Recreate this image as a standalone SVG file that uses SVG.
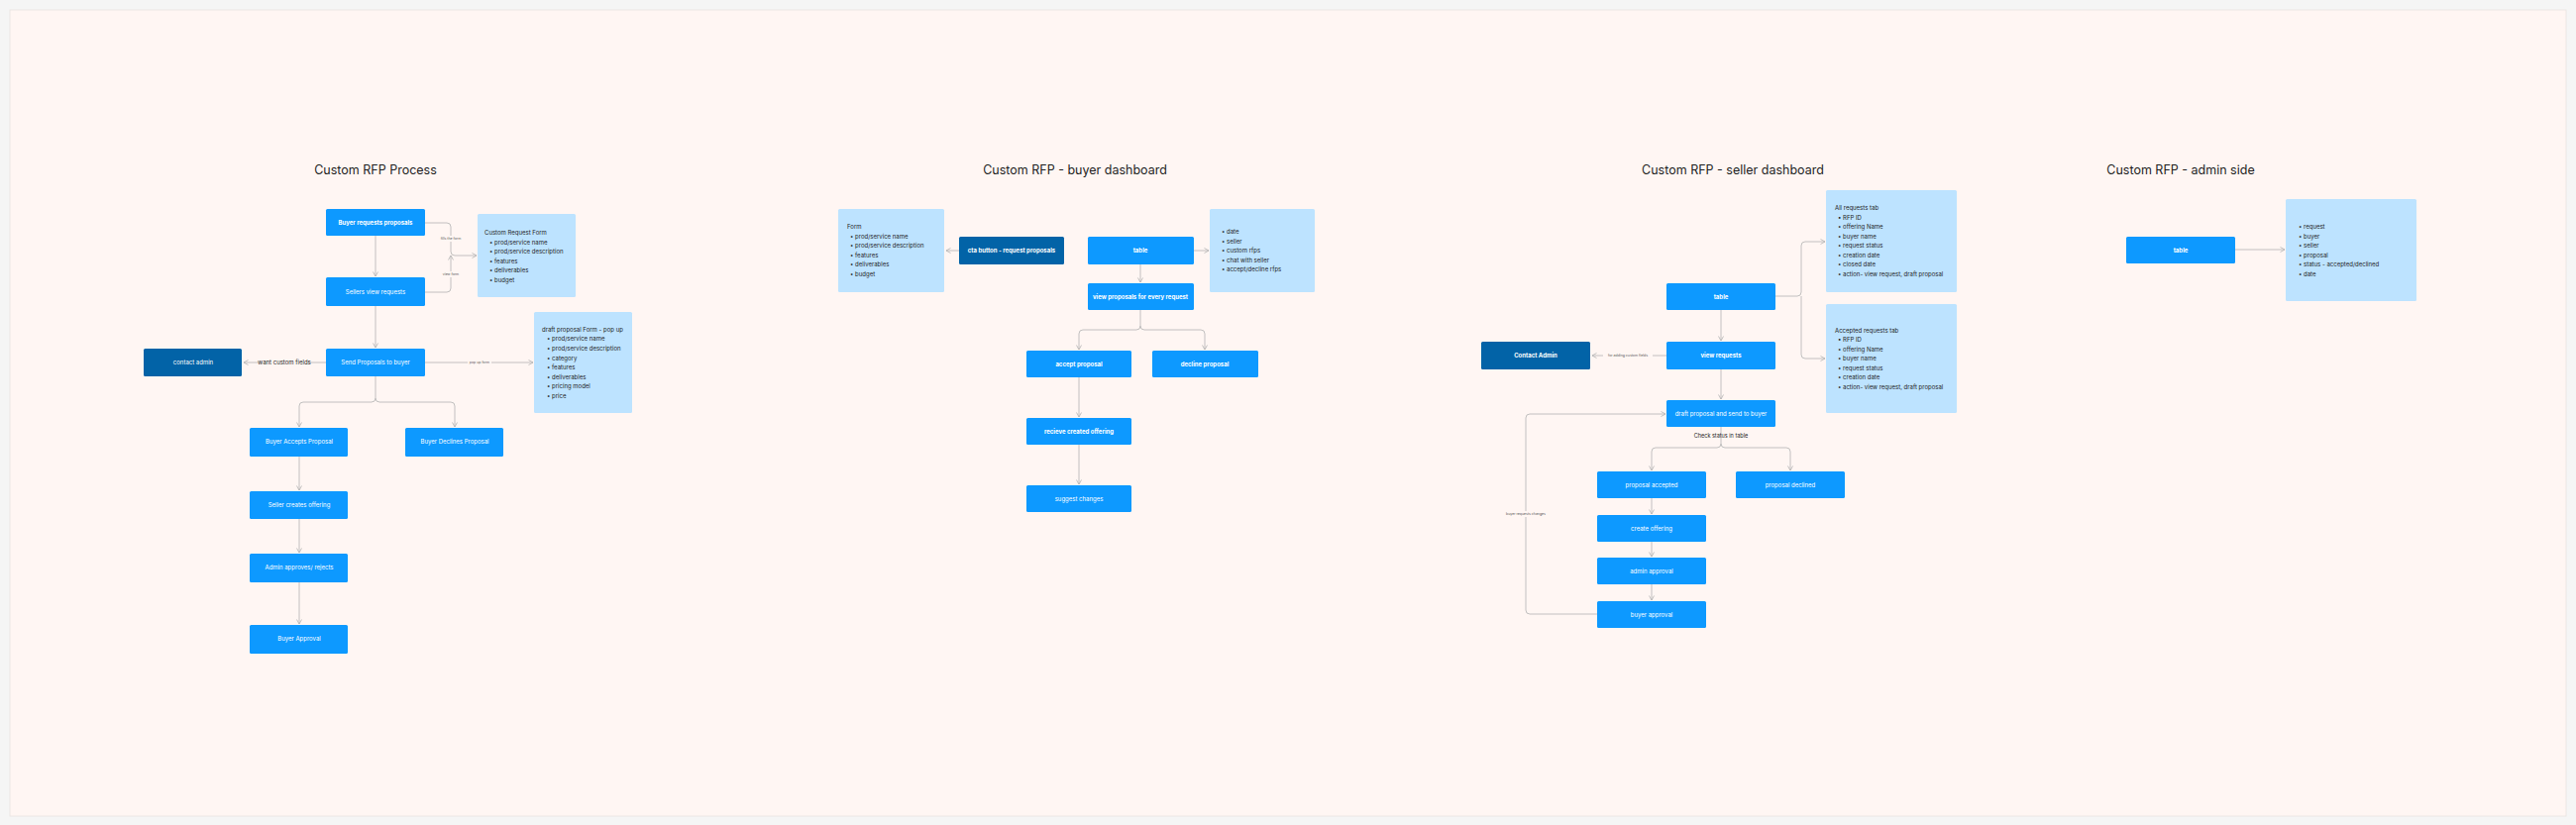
<svg xmlns="http://www.w3.org/2000/svg" width="2600" height="833" viewBox="0 0 2600 833">
<style>
text{font-family:Inter,"Liberation Sans",sans-serif}
.title{font-size:12.5px;fill:#1e1e1e;text-anchor:middle}
.n rect{fill:#0d99ff;rx:1.5}
.d rect{fill:#0263a7;rx:1.5}
.n text,.d text{font-size:6px;fill:#fff;text-anchor:middle;dominant-baseline:middle}
.b text{font-weight:bold}
.note rect{fill:#bde3ff;rx:1.5}
.note text{font-size:6px;fill:#1e1e1e}
.c path{fill:none;stroke:#b3b3b3;stroke-width:0.8;marker-end:url(#a)}
.lbl{font-size:3.5px;fill:#555;text-anchor:middle;dominant-baseline:middle}
.lbg{fill:#fff6f3}
</style>
<defs>
<marker id="a" viewBox="0 0 6 6" refX="5.5" refY="3" markerWidth="6" markerHeight="6" markerUnits="userSpaceOnUse" orient="auto"><path d="M1,0.5 L5.5,3 L1,5.5" fill="none" stroke="#b3b3b3" stroke-width="0.8"/></marker>
</defs>
<rect width="2600" height="833" fill="#f5f5f5"/>
<rect x="10" y="10" width="2580" height="814" fill="#fff6f3" stroke="#ece6e4" stroke-width="1"/>

<text class="title" x="379" y="176">Custom RFP Process</text>
<text class="title" x="1085" y="176">Custom RFP - buyer dashboard</text>
<text class="title" x="1749" y="176">Custom RFP - seller dashboard</text>
<text class="title" x="2201" y="176">Custom RFP - admin side</text>

<g class="c" id="connectors">
<!-- section 1 -->
<path d="M379,238 V279"/>
<path d="M379,309 V351"/>
<path d="M429,225 H451 Q455,225 455,229 V254 Q455,258 459,258 H481"/>
<path d="M429,295 H451 Q455,295 455,291 V258"/>
<path d="M329,366 H246"/>
<path d="M429,366 H538"/>
<path d="M379,380 V402 Q379,406 375,406 H306 Q302,406 302,410 V431"/>
<path d="M379,402 Q379,406 383,406 H455 Q459,406 459,410 V431"/>
<path d="M302,461 V495"/>
<path d="M302,524 V558"/>
<path d="M302,588 V630"/>
<!-- section 2 -->
<path d="M968,253 H955"/>
<path d="M1205,253 H1220"/>
<path d="M1151,267 V285"/>
<path d="M1151,313 V329 Q1151,333 1147,333 H1093 Q1089,333 1089,337 V353"/>
<path d="M1151,329 Q1151,333 1155,333 H1212 Q1216,333 1216,337 V353"/>
<path d="M1089,381 V421"/>
<path d="M1089,449 V489"/>
<!-- section 3 -->
<path d="M1792,299 H1814 Q1818,299 1818,295 V248 Q1818,244 1822,244 H1842"/>
<path d="M1818,299 V358 Q1818,362 1822,362 H1842"/>
<path d="M1737,313 V344"/>
<path d="M1682,359 H1607"/>
<path d="M1737,373 V403"/>
<path d="M1737,431 V448 Q1737,452 1733,452 H1671 Q1667,452 1667,456 V475"/>
<path d="M1737,448 Q1737,452 1741,452 H1803 Q1807,452 1807,456 V475"/>
<path d="M1667,503 V519"/>
<path d="M1667,547 V562"/>
<path d="M1667,590 V606"/>
<path d="M1612,620 H1544 Q1540,620 1540,616 V422 Q1540,418 1544,418 H1681"/>
<!-- section 4 -->
<path d="M2256,252 H2306"/>
</g>

<!-- connector labels -->
<rect class="lbg" x="445" y="238" width="20" height="6"/>
<text class="lbl" x="455" y="241">fills the form</text>
<rect class="lbg" x="447" y="274" width="16" height="6"/>
<text class="lbl" x="455" y="277">view form</text>
<rect class="lbg" x="261" y="361" width="50" height="10"/>
<text x="287" y="366" font-size="6" fill="#1e1e1e" text-anchor="middle" dominant-baseline="middle">want custom fields</text>
<rect class="lbg" x="472" y="363" width="24" height="6"/>
<text class="lbl" x="484" y="366">pop up form</text>
<rect class="lbg" x="1618" y="356" width="50" height="6"/>
<text class="lbl" x="1643" y="359">for adding custom fields</text>
<text x="1737" y="442" font-size="5.5" fill="#1e1e1e" text-anchor="middle">Check status in table</text>
<rect class="lbg" x="1520" y="516" width="40" height="6"/>
<text class="lbl" x="1540" y="519">buyer requests changes</text>

<!-- section 1 nodes -->
<g id="buyer-requests" class="n b"><rect x="329" y="211" width="100" height="27"/><text x="379" y="225">Buyer requests proposals</text></g>
<g id="sellers-view" class="n"><rect x="329" y="280" width="100" height="29"/><text x="379" y="295">Sellers view requests</text></g>
<g id="send-proposals" class="n"><rect x="329" y="352" width="100" height="28"/><text x="379" y="366">Send Proposals to buyer</text></g>
<g id="contact-admin" class="d"><rect x="145" y="352" width="99" height="28"/><text x="195" y="366">contact admin</text></g>
<g id="custom-request-form" class="note"><rect x="482" y="216" width="99" height="84"/>
<text x="489" y="237">Custom Request Form</text>
<text x="494" y="247">•  prod/service name</text>
<text x="494" y="256">•  prod/service description</text>
<text x="494" y="266">•  features</text>
<text x="494" y="275">•  deliverables</text>
<text x="494" y="285">•  budget</text></g>
<g id="draft-proposal-form" class="note"><rect x="539" y="315" width="99" height="102"/>
<text x="547" y="335">draft proposal Form - pop up</text>
<text x="552" y="344">•  prod/service name</text>
<text x="552" y="354">•  prod/service description</text>
<text x="552" y="364">•  category</text>
<text x="552" y="373">•  features</text>
<text x="552" y="383">•  deliverables</text>
<text x="552" y="392">•  pricing model</text>
<text x="552" y="402">•  price</text></g>
<g id="buyer-accepts" class="n"><rect x="252" y="432" width="99" height="29"/><text x="302" y="446.5">Buyer Accepts Proposal</text></g>
<g id="buyer-declines" class="n"><rect x="409" y="432" width="99" height="29"/><text x="459" y="446.5">Buyer Declines Proposal</text></g>
<g id="seller-creates" class="n"><rect x="252" y="496" width="99" height="28"/><text x="302" y="510">Seller creates offering</text></g>
<g id="admin-approves" class="n"><rect x="252" y="559" width="99" height="29"/><text x="302" y="573.5">Admin approves/ rejects</text></g>
<g id="buyer-approval" class="n"><rect x="252" y="631" width="99" height="29"/><text x="302" y="645.5">Buyer Approval</text></g>

<!-- section 2 nodes -->
<g id="buyer-form" class="note"><rect x="846" y="211" width="107" height="84"/>
<text x="855" y="231">Form</text>
<text x="858" y="241">•  prod/service name</text>
<text x="858" y="250">•  prod/service description</text>
<text x="858" y="260">•  features</text>
<text x="858" y="269">•  deliverables</text>
<text x="858" y="279">•  budget</text></g>
<g id="cta-button" class="d b"><rect x="968" y="239" width="106" height="28"/><text x="1021" y="253">cta button - request proposals</text></g>
<g id="buyer-table" class="n b"><rect x="1098" y="239" width="107" height="28"/><text x="1151" y="253">table</text></g>
<g id="buyer-table-cols" class="note"><rect x="1221" y="211" width="106" height="84"/>
<text x="1233" y="236">•  date</text>
<text x="1233" y="246">•  seller</text>
<text x="1233" y="255">•  custom rfps</text>
<text x="1233" y="265">•  chat with seller</text>
<text x="1233" y="274">•  accept/decline rfps</text></g>
<g id="view-proposals" class="n b"><rect x="1098" y="286" width="107" height="27"/><text x="1151" y="300">view proposals for every request</text></g>
<g id="accept-proposal" class="n b"><rect x="1036" y="354" width="106" height="27"/><text x="1089" y="368">accept proposal</text></g>
<g id="decline-proposal" class="n b"><rect x="1163" y="354" width="107" height="27"/><text x="1216" y="368">decline proposal</text></g>
<g id="recieve-offering" class="n b"><rect x="1036" y="422" width="106" height="27"/><text x="1089" y="436">recieve created offering</text></g>
<g id="suggest-changes" class="n"><rect x="1036" y="490" width="106" height="27"/><text x="1089" y="504">suggest changes</text></g>

<!-- section 3 nodes -->
<g id="all-requests-tab" class="note"><rect x="1843" y="192" width="132" height="103"/>
<text x="1852" y="212">All requests tab</text>
<text x="1855" y="222">•  RFP ID</text>
<text x="1855" y="231">•  offering Name</text>
<text x="1855" y="241">•  buyer name</text>
<text x="1855" y="250">•  request status</text>
<text x="1855" y="260">•  creation date</text>
<text x="1855" y="269">•  closed date</text>
<text x="1855" y="279">•  action- view request, draft proposal</text></g>
<g id="accepted-requests-tab" class="note"><rect x="1843" y="307" width="132" height="110"/>
<text x="1852" y="336">Accepted requests tab</text>
<text x="1855" y="345">•  RFP ID</text>
<text x="1855" y="355">•  offering Name</text>
<text x="1855" y="364">•  buyer name</text>
<text x="1855" y="374">•  request status</text>
<text x="1855" y="383">•  creation date</text>
<text x="1855" y="393">•  action- view request, draft proposal</text></g>
<g id="seller-table" class="n b"><rect x="1682" y="286" width="110" height="27"/><text x="1737" y="300">table</text></g>
<g id="view-requests" class="n b"><rect x="1682" y="345" width="110" height="28"/><text x="1737" y="359">view requests</text></g>
<g id="contact-admin-2" class="d b"><rect x="1495" y="345" width="110" height="28"/><text x="1550" y="359">Contact Admin</text></g>
<g id="draft-send" class="n"><rect x="1682" y="404" width="110" height="27"/><text x="1737" y="418">draft proposal and send to buyer</text></g>
<g id="proposal-accepted" class="n"><rect x="1612" y="476" width="110" height="27"/><text x="1667" y="490">proposal accepted</text></g>
<g id="proposal-declined" class="n"><rect x="1752" y="476" width="110" height="27"/><text x="1807" y="490">proposal declined</text></g>
<g id="create-offering" class="n"><rect x="1612" y="520" width="110" height="27"/><text x="1667" y="534">create offering</text></g>
<g id="admin-approval" class="n"><rect x="1612" y="563" width="110" height="27"/><text x="1667" y="577">admin approval</text></g>
<g id="seller-buyer-approval" class="n"><rect x="1612" y="607" width="110" height="27"/><text x="1667" y="621">buyer approval</text></g>

<!-- section 4 nodes -->
<g id="admin-table" class="n b"><rect x="2146" y="239" width="110" height="27"/><text x="2201" y="253">table</text></g>
<g id="admin-table-cols" class="note"><rect x="2307" y="201" width="132" height="103"/>
<text x="2320" y="231">•  request</text>
<text x="2320" y="241">•  buyer</text>
<text x="2320" y="250">•  seller</text>
<text x="2320" y="260">•  proposal</text>
<text x="2320" y="269">•  status - accepted/declined</text>
<text x="2320" y="279">•  date</text></g>
</svg>
